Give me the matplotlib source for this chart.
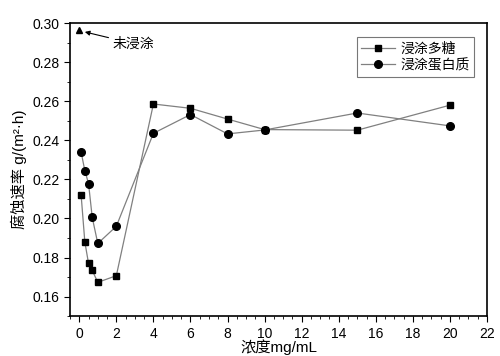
import matplotlib.pyplot as plt
from matplotlib.ticker import MultipleLocator

plt.rcParams["font.family"] = ["Liberation Sans", "Noto Sans CJK SC", "DejaVu Sans"]
cjk = ["Noto Sans CJK SC", "DejaVu Sans"]

# Data
conc = [0.1, 0.3, 0.5, 0.7, 1, 2, 4, 6, 8, 10, 15, 20]
polysaccharide = [0.212, 0.188, 0.177, 0.1734, 0.1673, 0.1707,
                  0.2586, 0.2564, 0.2509, 0.2455, 0.2452, 0.258]
protein = [0.234, 0.2245, 0.2179, 0.2005, 0.1872, 0.196,
           0.2436, 0.2532, 0.2433, 0.2453, 0.254, 0.2474]
uncoated_x = [0.0]
uncoated_y = [0.2966]

fig = plt.figure(figsize=(5, 3.56), dpi=100)
ax = fig.add_axes([0.14, 0.112, 0.834, 0.823])

ax.plot(conc, polysaccharide, color="#808080", linewidth=0.9,
        marker="s", markersize=5, markerfacecolor="black",
        markeredgecolor="black", label="浸涂多糖")
ax.plot(conc, protein, color="#808080", linewidth=0.9,
        marker="o", markersize=5.5, markerfacecolor="black",
        markeredgecolor="black", label="浸涂蛋白质")
ax.plot(uncoated_x, uncoated_y, linestyle="none", marker="^",
        markersize=5, color="black")

ax.annotate("未浸涂", xy=(0.3, 0.2955), xytext=(1.8, 0.2895),
            fontsize=10, family=cjk, va="center", ha="left",
            arrowprops=dict(arrowstyle="-|>", color="black", lw=0.8,
                            mutation_scale=7, shrinkA=1, shrinkB=0))

ax.set_xlim(-0.5, 22)
ax.set_ylim(0.15, 0.30)
ax.xaxis.set_major_locator(MultipleLocator(2))
ax.xaxis.set_minor_locator(MultipleLocator(0.5))
ax.yaxis.set_major_locator(MultipleLocator(0.02))
ax.yaxis.set_minor_locator(MultipleLocator(0.01))
ax.yaxis.set_major_formatter(plt.FormatStrFormatter("%.2f"))

ax.tick_params(which="both", direction="out", top=False, right=False,
               labelsize=10)
ax.tick_params(which="major", length=4)
ax.tick_params(which="minor", length=2)

for s in ax.spines.values():
    s.set_linewidth(1.2)

ax.set_xlabel("浓度mg/mL", fontsize=11, labelpad=-1)
ax.set_ylabel("腐蚀速率 g/(m²·h)", fontsize=11, labelpad=4)

leg = ax.legend(loc="upper right", bbox_to_anchor=(0.985, 0.975),
                prop={"family": cjk, "size": 10}, frameon=True,
                fancybox=False, edgecolor="#555555", handlelength=2.4,
                borderpad=0.3, labelspacing=0.2, handletextpad=0.4)
leg.get_frame().set_linewidth(0.8)

plt.savefig("out.png", dpi=100)
